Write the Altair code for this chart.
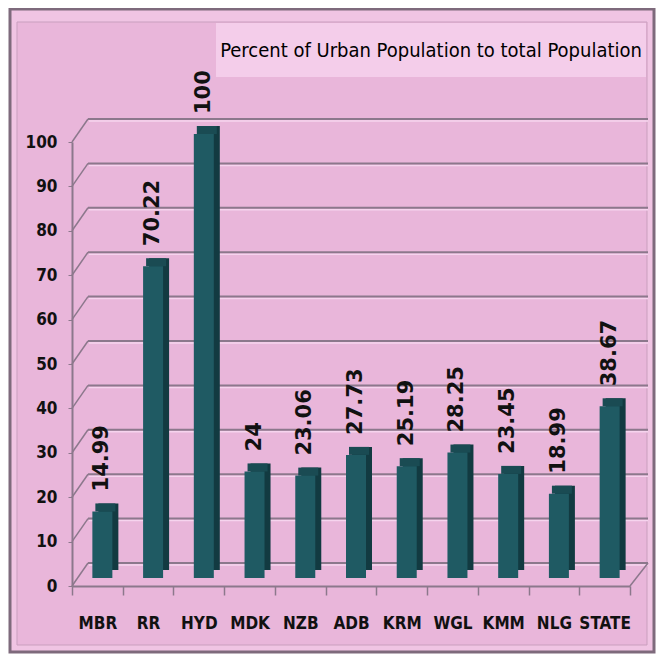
import altair as alt
import pandas as pd

categories = ["MBR", "RR", "HYD", "MDK", "NZB", "ADB", "KRM", "WGL", "KMM", "NLG", "STATE"]
values = [14.99, 70.22, 100, 24, 23.06, 27.73, 25.19, 28.25, 23.45, 18.99, 38.67]
value_labels = ["14.99", "70.22", "100", "24", "23.06", "27.73", "25.19", "28.25", "23.45", "18.99", "38.67"]
y_ticks = [0, 10, 20, 30, 40, 50, 60, 70, 80, 90, 100]
title_text = ["Percent of Urban Population to total Population"]

bars_df = pd.DataFrame({"district": categories, "pct": values, "label": value_labels,
                        "zero": [0] * len(categories)})
ticks_df = pd.DataFrame({"tick": y_ticks})
title_df = pd.DataFrame({"text": title_text})

NARROW = "DejaVu Sans Condensed, Liberation Sans Narrow, Liberation Sans, sans-serif"
GRID = "#8c788c"
PINK = "#e9b6da"
FRONT = "#1f5a63"
SIDE = "#123a41"
TOP = "#1a4b53"

y_scale = alt.Scale(domain=[0, 100], nice=False, zero=True)
x_scale = alt.Scale(domain=categories, paddingInner=0, paddingOuter=0)

x_axis = alt.Axis(title=None, labelAngle=0, tickBand="extent", tickSize=9, tickColor=GRID,
                  tickWidth=1.5, domainColor=GRID, domainWidth=2, labelFont=NARROW,
                  labelFontWeight="bold", labelFontSize=17, labelColor="#111111",
                  labelPadding=20, zindex=1)
y_axis = alt.Axis(title=None, values=y_ticks, grid=False, domainColor=GRID, domainWidth=2,
                  tickColor=GRID, tickSize=4, labelFont=NARROW, labelFontWeight="bold",
                  labelFontSize=17, labelColor="#111111", labelPadding=11, zindex=1)

X = alt.X("district:N", sort=categories, scale=x_scale, axis=x_axis)


def Yf(field):
    return alt.Y(field, scale=y_scale, axis=y_axis)


frame = alt.Chart(title_df).mark_rect(fill="#f0c4e3", stroke="#7e6a7c", strokeWidth=3).encode(
    x=alt.value(-62), x2=alt.value(582), y=alt.value(-133), y2=alt.value(510))
inner = alt.Chart(title_df).mark_rect(fill=PINK, stroke="#c99fbe", strokeWidth=1).encode(
    x=alt.value(-55), x2=alt.value(575), y=alt.value(-120), y2=alt.value(503))
title_box = alt.Chart(title_df).mark_rect(fill="#f4cdea").encode(
    x=alt.value(144), x2=alt.value(574), y=alt.value(-119), y2=alt.value(-65))
title = alt.Chart(title_df).mark_text(font=NARROW, fontSize=20, align="center",
                                      baseline="middle", color="#000000").encode(
    x=alt.value(359), y=alt.value(-91), text="text:N")

highlight = alt.Chart(ticks_df).mark_rule(color="#f6d4ee", strokeWidth=1.5, yOffset=-21).encode(
    y=Yf("tick:Q"), x=alt.value(17), x2=alt.value(576))
grid = alt.Chart(ticks_df).mark_rule(color=GRID, strokeWidth=2, yOffset=-23).encode(
    y=Yf("tick:Q"), x=alt.value(16), x2=alt.value(576))
left_slant = alt.Chart(ticks_df).mark_rule(color=GRID, strokeWidth=1.5, y2Offset=-23).encode(
    y=Yf("tick:Q"), y2=alt.Y2("tick:Q"), x=alt.value(0), x2=alt.value(16))
right_slant = alt.Chart(ticks_df).transform_filter("datum.tick == 0").mark_rule(
    color=GRID, strokeWidth=1.5, y2Offset=-23).encode(
    y=Yf("tick:Q"), y2=alt.Y2("tick:Q"), x=alt.value(558), x2=alt.value(576))

side = alt.Chart(bars_df).mark_bar(size=20, color=SIDE, xOffset=11, yOffset=-16, y2Offset=-16).encode(
    x=X, y=Yf("pct:Q"), y2=alt.Y2("zero:Q"))
top = alt.Chart(bars_df).mark_bar(size=20, color=TOP, xOffset=8, yOffset=-16, y2Offset=-8).encode(
    x=X, y=Yf("pct:Q"), y2=alt.Y2("pct:Q"))
front = alt.Chart(bars_df).mark_bar(size=20, color=FRONT, xOffset=5, yOffset=-8, y2Offset=-8).encode(
    x=X, y=Yf("pct:Q"), y2=alt.Y2("zero:Q"))
labels = alt.Chart(bars_df).mark_text(angle=270, align="left", baseline="middle",
                                      font="DejaVu Sans", fontWeight="bold", fontSize=21,
                                      color="#111111", xOffset=5, yOffset=-28).encode(
    x=X, y=Yf("pct:Q"), text="label:N")

chart = alt.layer(frame, inner, title_box, title, highlight, grid, left_slant, right_slant,
                  side, top, front, labels).properties(
    width=558, height=444,
    autosize=alt.AutoSizeParams(type="none"),
    padding={"left": 64, "top": 134, "right": 26, "bottom": 68},
    background="white",
).configure_view(stroke=None)

chart.save("out.html", embed_options={"renderer": "svg", "actions": False})
